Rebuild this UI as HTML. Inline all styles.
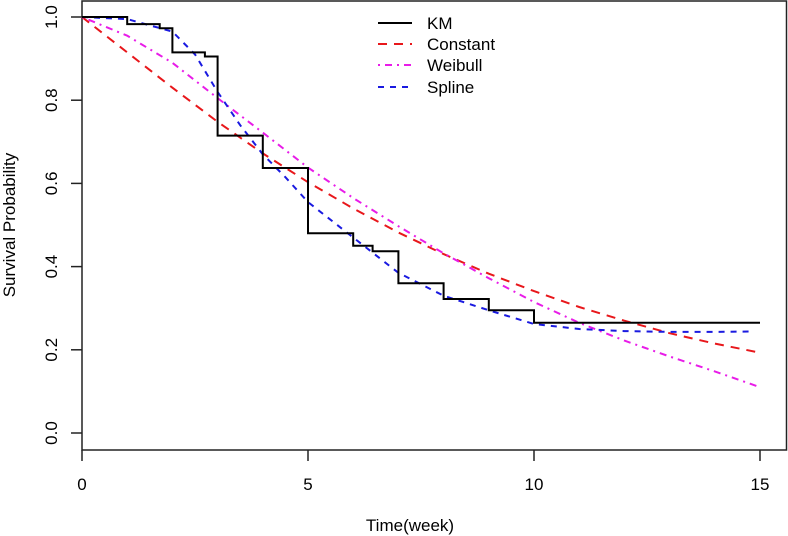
<!DOCTYPE html>
<html><head><meta charset="utf-8"><style>
html,body{margin:0;padding:0;background:#fff;}
svg{display:block;font-family:"Liberation Sans",Arial,sans-serif;}
</style></head><body>
<svg id="chart" width="788" height="536" xmlns="http://www.w3.org/2000/svg">
<rect x="82" y="1" width="704.5" height="449" fill="none" stroke="#222" stroke-width="1.5"/>
<g id="axes"></g>
<g id="series"></g>
<text x="410" y="531" font-size="17" text-anchor="middle">Time(week)</text>
<text transform="translate(15,225) rotate(-90)" font-size="17" text-anchor="middle">Survival Probability</text>
<g>
<line x1="378" y1="23" x2="412" y2="23" stroke="#000" stroke-width="2"/>
<text x="427" y="29" font-size="17">KM</text>
<line x1="378" y1="44" x2="412" y2="44" stroke="#e8171b" stroke-width="2" stroke-dasharray="9,7"/>
<text x="427" y="50" font-size="17">Constant</text>
<line x1="378" y1="65" x2="412" y2="65" stroke="#e81ce8" stroke-width="2" stroke-dasharray="2,5,7,5"/>
<text x="427" y="71" font-size="17">Weibull</text>
<line x1="378" y1="87" x2="412" y2="87" stroke="#1a1ae0" stroke-width="2" stroke-dasharray="6,6"/>
<text x="427" y="93" font-size="17">Spline</text>
</g>
</svg>
<script>
const xTicks = [0, 5, 10, 15];
const yTicks = [0, 0.2, 0.4, 0.6, 0.8, 1.0];
const yTickLabels = ["0.0", "0.2", "0.4", "0.6", "0.8", "1.0"];
const kmTimes = [0, 1, 1.72, 2, 2.72, 3, 4, 5, 6, 6.43, 7, 8, 9, 10, 15];
const kmSurv = [1, 0.983, 0.973, 0.915, 0.905, 0.715, 0.637, 0.48, 0.45, 0.437, 0.36, 0.322, 0.295, 0.265, 0.265];
const constTimes = [0,1,2,3,4,5,6,7,8,9,10,11,12,13,14,15];
const constSurv = [1,0.915,0.83,0.748,0.672,0.603,0.54,0.482,0.43,0.383,0.341,0.303,0.27,0.24,0.215,0.193];
const weibTimes = [0,1,2,3,4,5,6,7,8,9,10,11,12,13,14,15];
const weibSurv = [1,0.955,0.89,0.805,0.722,0.638,0.565,0.497,0.432,0.372,0.315,0.265,0.222,0.184,0.148,0.11];
const splTimes = [0,1,2,2.5,3,3.5,4,4.5,5,6,7,8,9,10,11,12,13,14,14.8];
const splSurv = [1,0.995,0.965,0.91,0.82,0.74,0.67,0.615,0.555,0.47,0.385,0.33,0.295,0.262,0.25,0.245,0.243,0.243,0.244];

const NS = "http://www.w3.org/2000/svg";
function xs(t){ return 82 + t * (760 - 82) / 15; }
function ys(v){ return 433 - v * (433 - 17); }
function mk(tag, attrs){ const e = document.createElementNS(NS, tag); for (const k in attrs) e.setAttribute(k, attrs[k]); return e; }
const axes = document.getElementById('axes');
xTicks.forEach(t => {
  const l = mk('line', {x1: xs(t), y1: 450, x2: xs(t), y2: 461, stroke: '#222', 'stroke-width': 1.5});
  
  
  axes.appendChild(l);
  const tx = mk('text', {x: xs(t), y: 490, 'font-size': 17, 'text-anchor': 'middle'});
  tx.textContent = String(t);
  
  
  axes.appendChild(tx);
});
yTicks.forEach((v, i) => {
  const l = mk('line', {x1: 71, y1: ys(v), x2: 82, y2: ys(v), stroke: '#222', 'stroke-width': 1.5});
  
  
  axes.appendChild(l);
  const tx = mk('text', {transform: 'translate(57,' + ys(v) + ') rotate(-90)', 'font-size': 17, 'text-anchor': 'middle'});
  tx.textContent = yTickLabels[i];
  
  
  axes.appendChild(tx);
});
const series = document.getElementById('series');
function linePath(ts, vs){ return ts.map((t, i) => (i ? 'L' : 'M') + xs(t).toFixed(1) + ',' + ys(vs[i]).toFixed(1)).join(' '); }
function stepPath(ts, vs){
  let d = 'M' + xs(ts[0]) + ',' + ys(vs[0]);
  for (let i = 1; i < ts.length; i++){ d += ' L' + xs(ts[i]).toFixed(1) + ',' + ys(vs[i-1]).toFixed(1) + ' L' + xs(ts[i]).toFixed(1) + ',' + ys(vs[i]).toFixed(1); }
  return d;
}
const pc = mk('path', {d: linePath(constTimes, constSurv), fill: 'none', stroke: '#e8171b', 'stroke-width': 2, 'stroke-dasharray': '9,7'});


series.appendChild(pc);
const pw = mk('path', {d: linePath(weibTimes, weibSurv), fill: 'none', stroke: '#e81ce8', 'stroke-width': 2, 'stroke-dasharray': '2,5,7,5'});


series.appendChild(pw);
const ps = mk('path', {d: linePath(splTimes, splSurv), fill: 'none', stroke: '#1a1ae0', 'stroke-width': 2, 'stroke-dasharray': '6,6'});


series.appendChild(ps);
const pk = mk('path', {d: stepPath(kmTimes, kmSurv), fill: 'none', stroke: '#000', 'stroke-width': 2});


series.appendChild(pk);
</script>
</body></html>
